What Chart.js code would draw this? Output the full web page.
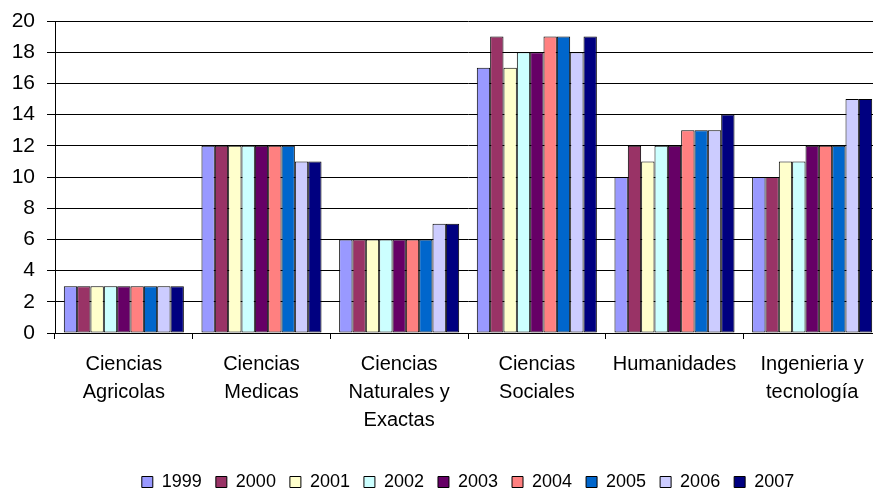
<!DOCTYPE html>
<html>
<head>
<meta charset="utf-8">
<script src="https://cdn.jsdelivr.net/npm/chart.js@4"></script>
<style>
  html, body { margin: 0; padding: 0; background: #fff; }
  .wrap { width: 873px; height: 491px; overflow: hidden; }
</style>
</head>
<body>
<div class="wrap"><canvas id="chart" width="884" height="501"></canvas></div>
<script>
const categories = [
  ["Ciencias", "Agricolas"],
  ["Ciencias", "Medicas"],
  ["Ciencias", "Naturales y", "Exactas"],
  ["Ciencias", "Sociales"],
  "Humanidades",
  ["Ingenieria y", "tecnología"],
];
const years = ["1999", "2000", "2001", "2002", "2003", "2004", "2005", "2006", "2007"];

const v1999 = [3, 12, 6, 17, 10, 10];
const v2000 = [3, 12, 6, 19, 12, 10];
const v2001 = [3, 12, 6, 17, 11, 11];
const v2002 = [3, 12, 6, 18, 12, 11];
const v2003 = [3, 12, 6, 18, 12, 12];
const v2004 = [3, 12, 6, 19, 13, 12];
const v2005 = [3, 12, 6, 19, 13, 12];
const v2006 = [3, 11, 7, 18, 13, 15];
const v2007 = [3, 11, 7, 19, 14, 15];

const yTicks = [0, 2, 4, 6, 8, 10, 12, 14, 16, 18, 20];

const seriesValues = [v1999, v2000, v2001, v2002, v2003, v2004, v2005, v2006, v2007];
const colors = [
  "#9999FF", "#993366", "#FFFFCC", "#CCFFFF", "#660066",
  "#FF8080", "#0066CC", "#CCCCFF", "#000080",
];

const font = "'Liberation Sans', Arial, sans-serif";

const datasets = years.map((y, i) => ({
  label: y,
  data: seriesValues[i],
  backgroundColor: colors[i],
  borderColor: "#000",
  borderWidth: 1,
  borderSkipped: false,
  categoryPercentage: 0.872,
  barPercentage: 1.0,
}));

new Chart(document.getElementById("chart").getContext("2d"), {
  type: "bar",
  data: { labels: categories, datasets: datasets },
  options: {
    responsive: false,
    animation: false,
    devicePixelRatio: 1,
    layout: { padding: { top: 21, right: 3, left: 0, bottom: 0 } },
    scales: {
      x: {
        afterFit: (scale) => {
          scale.height = 126;
          scale.paddingLeft = 0;
          scale.paddingRight = 0;
        },
        grid: {
          drawOnChartArea: false,
          drawTicks: true,
          tickLength: 6,
          color: "#000",
        },
        border: { display: true, color: "#000", width: 1 },
        ticks: {
          autoSkip: false,
          maxRotation: 0,
          minRotation: 0,
          padding: 11,
          color: "#000",
          font: { size: 20, family: font, lineHeight: 1.4 },
        },
      },
      y: {
        min: yTicks[0],
        max: yTicks[yTicks.length - 1],
        afterFit: (scale) => {
          scale.width = 55;
          scale.paddingTop = 0;
          scale.paddingBottom = 0;
        },
        afterBuildTicks: (scale) => {
          scale.ticks = yTicks.map((v) => ({ value: v }));
        },
        grid: {
          color: "#000",
          lineWidth: 1,
          drawTicks: true,
          tickLength: 8,
        },
        border: { display: true, color: "#000", width: 1 },
        ticks: {
          padding: 12,
          color: "#000",
          font: { size: 21, family: font },
        },
      },
    },
    plugins: {
      tooltip: { enabled: false },
      legend: {
        position: "bottom",
        fullSize: false,
        labels: {
          boxWidth: 11,
          boxHeight: 11,
          padding: 14,
          color: "#000",
          font: { size: 18, family: font },
        },
      },
    },
  },
});
</script>
</body>
</html>
